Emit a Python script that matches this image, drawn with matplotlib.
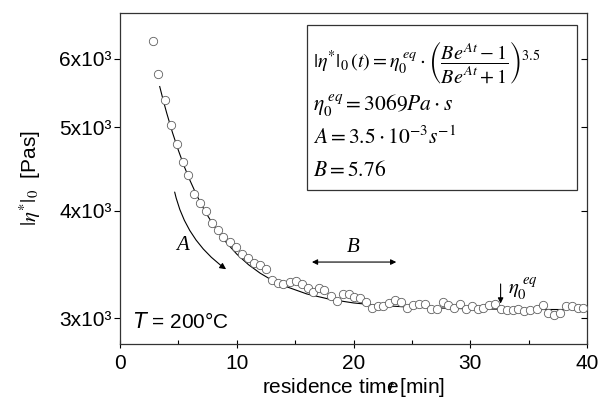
import matplotlib

matplotlib.use("Agg")
from matplotlib import pyplot as plt
from matplotlib.patches import FancyArrowPatch, Rectangle
from matplotlib.ticker import FixedLocator, NullLocator, NullFormatter

plt.rcParams["font.family"] = ["Liberation Sans", "DejaVu Sans"]

# measured |eta*|_0 values
time_min = [2.85, 3.28, 3.85, 4.37, 4.88, 5.37, 5.85, 6.37, 6.88, 7.37,
            7.85, 8.37, 8.85, 9.42, 9.94, 10.42, 10.94, 11.50, 11.99, 12.50, 12.99,
            13.50, 13.99, 14.56, 15.07, 15.56, 16.08, 16.56, 17.04, 17.50,
            18.07, 18.56, 19.07, 19.58, 20.07, 20.56, 21.07, 21.56, 22.07, 22.55,
            23.07, 23.55, 24.07, 24.56, 25.12, 25.64, 26.12, 26.61, 27.12, 27.64,
            28.12, 28.60, 29.12, 29.64, 30.12, 30.63, 31.12, 31.63, 32.12, 32.63,
            33.12, 33.63, 34.12, 34.63, 35.12, 35.69, 36.26, 36.69, 37.17, 37.69,
            38.20, 38.69, 39.20, 39.68]
eta_pas = [6297, 5760, 5383, 5029, 4785, 4554, 4404, 4186, 4082, 3996,
           3865, 3796, 3729, 3679, 3629, 3566, 3520, 3478, 3456, 3418, 3326,
           3298, 3291, 3306, 3312, 3291, 3249, 3215, 3256, 3234,
           3182, 3141, 3197, 3197, 3174, 3170, 3133, 3086, 3097, 3097,
           3125, 3147, 3133, 3086, 3105, 3120, 3114, 3071, 3071, 3133,
           3105, 3080, 3120, 3078, 3097, 3071, 3086, 3105, 3114, 3078,
           3064, 3064, 3071, 3059, 3064, 3078, 3105, 3038, 3024, 3038,
           3097, 3097, 3086, 3086]

# fitted curve
fit_time = [3.4, 3.7, 4, 4.5, 5, 5.5, 6, 6.5, 7, 7.5, 8, 9, 10, 11, 12, 13, 14,
            16, 18, 20, 22, 25, 30, 35, 40]
fit_eta = [5574, 5373, 5192, 4925, 4699, 4502, 4334, 4187, 4059, 3947, 3849,
           3687, 3561, 3462, 3384, 3322, 3273, 3201, 3155, 3125, 3106, 3089,
           3076, 3071, 3070]

y_ticks = [3000, 4000, 5000, 6000]
y_tick_labels = ["3x10³", "4x10³", "5x10³", "6x10³"]
x_ticks = [0, 10, 20, 30, 40]

fig = plt.figure(figsize=(6.01, 4.03), dpi=100)
ax = fig.add_axes([0.1997, 0.1464, 0.777, 0.822])

ax.plot(fit_time, fit_eta, color="black", linewidth=0.8, zorder=2)
ax.plot(time_min, eta_pas, linestyle="none", marker="o", markersize=6.0,
        markerfacecolor="white", markeredgecolor="#606060",
        markeredgewidth=0.6, zorder=3)

ax.set_yscale("log")
ax.set_xlim(0, 40)
ax.set_ylim(2800, 6790)
ax.yaxis.set_major_locator(FixedLocator(y_ticks))
ax.yaxis.set_minor_locator(NullLocator())
ax.set_yticklabels(y_tick_labels)
ax.set_xticks(x_ticks)
ax.xaxis.set_minor_locator(FixedLocator([5, 15, 25, 35]))

ax.tick_params(axis="x", which="major", direction="inout", length=6,
               width=0.8, labelsize=15, pad=4)
ax.tick_params(axis="x", which="minor", direction="in", length=3, width=0.8)
ax.tick_params(axis="y", which="major", direction="out", length=4,
               width=0.8, labelsize=15, pad=2)
for spine in ax.spines.values():
    spine.set_linewidth(0.9)
    spine.set_color("#333333")

# inward ticks on the right spine
ax_r = ax.twinx()
ax_r.set_yscale("log")
ax_r.set_ylim(ax.get_ylim())
ax_r.yaxis.set_major_locator(FixedLocator(y_ticks))
ax_r.yaxis.set_minor_locator(NullLocator())
ax_r.yaxis.set_major_formatter(NullFormatter())
ax_r.tick_params(axis="y", direction="in", length=4, width=0.8)
for spine in ax_r.spines.values():
    spine.set_visible(False)

ax.set_xlabel(r"residence time$\!\!\!\!\mathit{t}$ [min]", fontsize=15,
              labelpad=2, math_fontfamily="stix")
ax.set_ylabel(r"$|\eta^{*}|_0$  [Pas]", fontsize=15, math_fontfamily="stix")
ax.yaxis.set_label_coords(-0.165, 0.5)

# formula box
ax.add_patch(Rectangle((0.400, 0.465), 0.579, 0.498, transform=ax.transAxes,
                       facecolor="white", edgecolor="#333333", linewidth=0.9,
                       zorder=4))
box_lines = [
    (0.848, 14.5, r"$|\eta^{*}|_0\,(t) = \eta_0^{\;eq}\cdot\left(\dfrac{Be^{At}-1}{Be^{At}+1}\right)^{3.5}$"),
    (0.721, 15.5, r"$\eta_0^{\;eq} = 3069 Pa\cdot s$"),
    (0.622, 15.5, r"$A = 3.5\cdot 10^{-3} s^{-1}$"),
    (0.525, 15.5, r"$B = 5.76$"),
]
for ypos, size, txt in box_lines:
    ax.text(0.413, ypos, txt, transform=ax.transAxes, fontsize=size,
            math_fontfamily="stix", va="center", ha="left", zorder=5)

# annotations
ax.add_patch(FancyArrowPatch((4.63, 4234), (9.28, 3405),
                             connectionstyle="arc3,rad=0.2", arrowstyle="-|>",
                             mutation_scale=9, linewidth=0.8, color="black"))
ax.text(5.37, 3646, "A", fontsize=15, style="italic",
        family="Liberation Serif", ha="center", va="center")
ax.annotate("", xy=(16.2, 3486), xytext=(23.9, 3486),
            arrowprops=dict(arrowstyle="<|-|>", mutation_scale=8,
                            linewidth=0.8, color="black"))
ax.text(19.98, 3629, "B", fontsize=15, style="italic",
        family="Liberation Serif", ha="center", va="center")
ax.annotate("", xy=(32.6, 3097), xytext=(32.6, 3312),
            arrowprops=dict(arrowstyle="-|>", mutation_scale=8,
                            linewidth=0.8, color="black"))
ax.text(33.2, 3250, r"$\eta_0^{\;eq}$", fontsize=15, math_fontfamily="stix",
        ha="left", va="center")
ax.text(0.028, 0.066, r"$\mathit{T}$ = 200°C", transform=ax.transAxes,
        fontsize=15, math_fontfamily="dejavusans", ha="left", va="center")

fig.savefig("out.png", dpi=100)
